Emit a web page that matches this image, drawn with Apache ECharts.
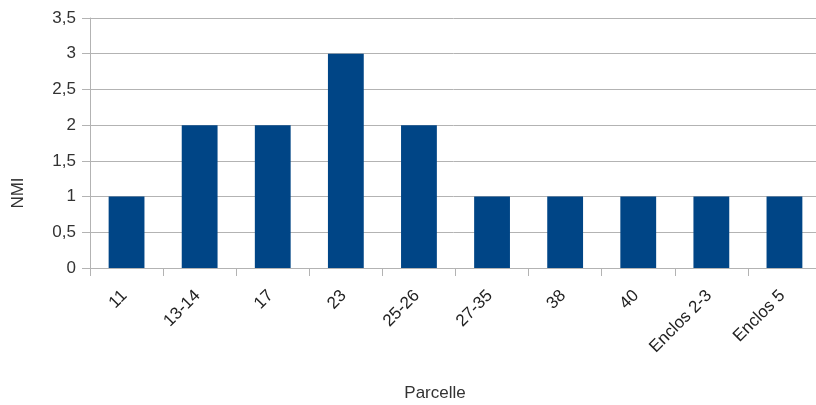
<!DOCTYPE html>
<html><head><meta charset="utf-8">
<script src="https://cdn.jsdelivr.net/npm/echarts@6/dist/echarts.min.js"></script>
<style>html,body{margin:0;padding:0;background:#fff}#c{width:816px;height:405px}</style>
</head><body><div id="c"></div>
<script>
const categories = ['11','13-14','17','23','25-26','27-35','38','40','Enclos 2-3','Enclos 5'];
const values = [1,2,2,3,2,1,1,1,1,1];
const yTicks = [0,0.5,1,1.5,2,2.5,3,3.5];
const xTitle = 'Parcelle';
const yTitle = 'NMI';
const chart = echarts.init(document.getElementById('c'));
chart.setOption({
  animation:false,
  textStyle:{fontFamily:'Liberation Sans'},
  grid:{left:90,right:-5,top:18,bottom:137,outerBoundsMode:'none',containLabel:false},
  graphic:[
    {type:'text',x:18,y:193,rotation:Math.PI/2,
      style:{text:yTitle,font:'17px Liberation Sans',fill:'#333',align:'center',verticalAlign:'middle'}},
    {type:'text',x:435,y:393,
      style:{text:xTitle,font:'17px Liberation Sans',fill:'#333',align:'center',verticalAlign:'middle'}}
  ],
  xAxis:{type:'category',data:categories,
    axisLine:{lineStyle:{color:'#b3b3b3'}},
    axisTick:{show:true,length:8,lineStyle:{color:'#b3b3b3'}},
    axisLabel:{rotate:45,fontSize:17,color:'#222',margin:23,padding:[0,3,0,0],interval:0}},
  yAxis:{type:'value',min:0,max:3.5,interval:0.5,
    axisLine:{show:true,lineStyle:{color:'#b3b3b3'}},
    axisTick:{show:true,length:8,lineStyle:{color:'#b3b3b3'}},
    splitLine:{lineStyle:{color:'#b3b3b3'}},
    axisLabel:{fontSize:17,color:'#333',margin:14,
      formatter:v=>String(v).replace('.',',')}},
  series:[{type:'bar',data:values,barWidth:'49%',itemStyle:{color:'#004586'}}]
});
</script></body></html>
